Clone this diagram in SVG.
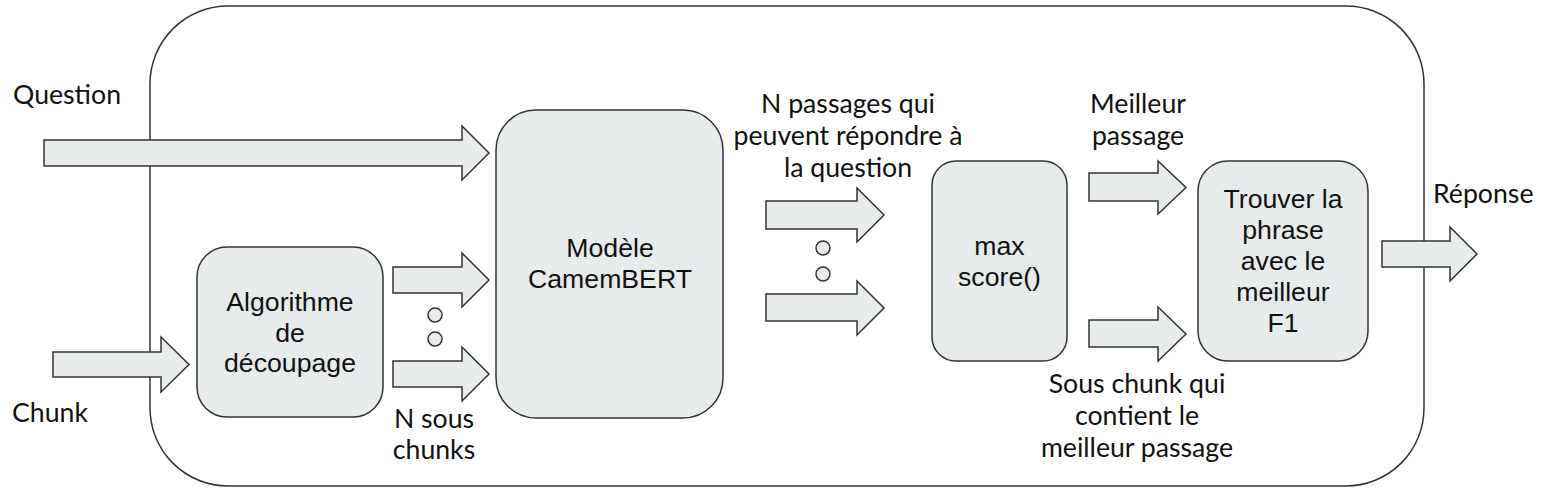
<svg xmlns="http://www.w3.org/2000/svg" width="1556" height="498" viewBox="0 0 1556 498">
<style>
.box{fill:#e8ebec;stroke:#333;stroke-width:1.5}
.arr{fill:#e8ebec;stroke:#333;stroke-width:1.5;stroke-linejoin:miter}
.dot{fill:#e8ebec;stroke:#333;stroke-width:1.5}
.lbl{font-family:Lato,"Liberation Sans",sans-serif;font-size:26.67px;fill:#111}
.in{font-family:"Liberation Sans",Arial,sans-serif;font-size:26.67px;fill:#111;text-anchor:middle}
.c{text-anchor:middle}
</style>
<rect id="frame" x="150" y="6" width="1274" height="480" rx="78" fill="#fff" stroke="#333" stroke-width="1.5"/>
<g id="connectors">
<path class="arr" d="M44,140 H462 V126 L489,153 L462,180 V166 H44 Z"/>
<path class="arr" d="M53,352 H161 V337 L189,364.5 L161,392 V377 H53 Z"/>
<path class="arr" d="M393,267 H462 V253 L489,280 L462,307 V293 H393 Z"/>
<path class="arr" d="M393,361 H462 V347 L489,374 L462,401 V387 H393 Z"/>
<path class="arr" d="M766,201 H857 V188 L884,215 L857,242 V229 H766 Z"/>
<path class="arr" d="M766,294 H857 V281 L884,308 L857,335 V321 H766 Z"/>
<path class="arr" d="M1089,173 H1158 V161 L1186,187.5 L1158,214 V201 H1089 Z"/>
<path class="arr" d="M1089,320 H1158 V307 L1186,334 L1158,361 V347 H1089 Z"/>
<path class="arr" d="M1382,241 H1450 V227 L1477,254 L1450,281 V267 H1382 Z"/>
<circle class="dot" cx="435" cy="315" r="7"/>
<circle class="dot" cx="435" cy="339" r="7"/>
<circle class="dot" cx="823" cy="248" r="7"/>
<circle class="dot" cx="823" cy="274" r="7"/>
</g>
<g id="question-label"><text class="lbl" x="13" y="104">Question</text></g>
<g id="chunk-label"><text class="lbl" x="12" y="422">Chunk</text></g>
<g id="decoupage">
<rect class="box" x="197" y="247" width="186" height="170" rx="30"/>
<text class="in" x="290" y="311">Algorithme</text>
<text class="in" x="290" y="341.5">de</text>
<text class="in" x="290" y="372">découpage</text>
</g>
<g id="sous-chunks-label"><text class="lbl c" x="434" y="428">N sous</text><text class="lbl c" x="434" y="459">chunks</text></g>
<g id="camembert">
<rect class="box" x="496" y="110" width="227" height="308" rx="40"/>
<text class="in" x="610" y="257">Modèle</text>
<text class="in" x="610" y="288">CamemBERT</text>
</g>
<g id="passages-label">
<text class="lbl c" x="848" y="113">N passages qui</text>
<text class="lbl c" x="848" y="145">peuvent répondre à</text>
<text class="lbl c" x="848" y="177">la question</text>
</g>
<g id="max-score">
<rect class="box" x="932" y="161" width="135" height="200" rx="24"/>
<text class="in" x="999.5" y="255">max</text>
<text class="in" x="999.5" y="286">score()</text>
</g>
<g id="meilleur-label">
<text class="lbl c" x="1138" y="113">Meilleur</text>
<text class="lbl c" x="1138" y="145">passage</text>
</g>
<g id="sous-chunk-label">
<text class="lbl c" x="1137" y="393">Sous chunk qui</text>
<text class="lbl c" x="1137" y="425">contient le</text>
<text class="lbl c" x="1137" y="457">meilleur passage</text>
</g>
<g id="trouver">
<rect class="box" x="1198" y="161" width="170" height="200" rx="30"/>
<text class="in" x="1283" y="208">Trouver la</text>
<text class="in" x="1283" y="239">phrase</text>
<text class="in" x="1283" y="270">avec le</text>
<text class="in" x="1283" y="301">meilleur</text>
<text class="in" x="1283" y="332">F1</text>
</g>
<g id="reponse-label"><text class="lbl" x="1433" y="203">Réponse</text></g>
</svg>
